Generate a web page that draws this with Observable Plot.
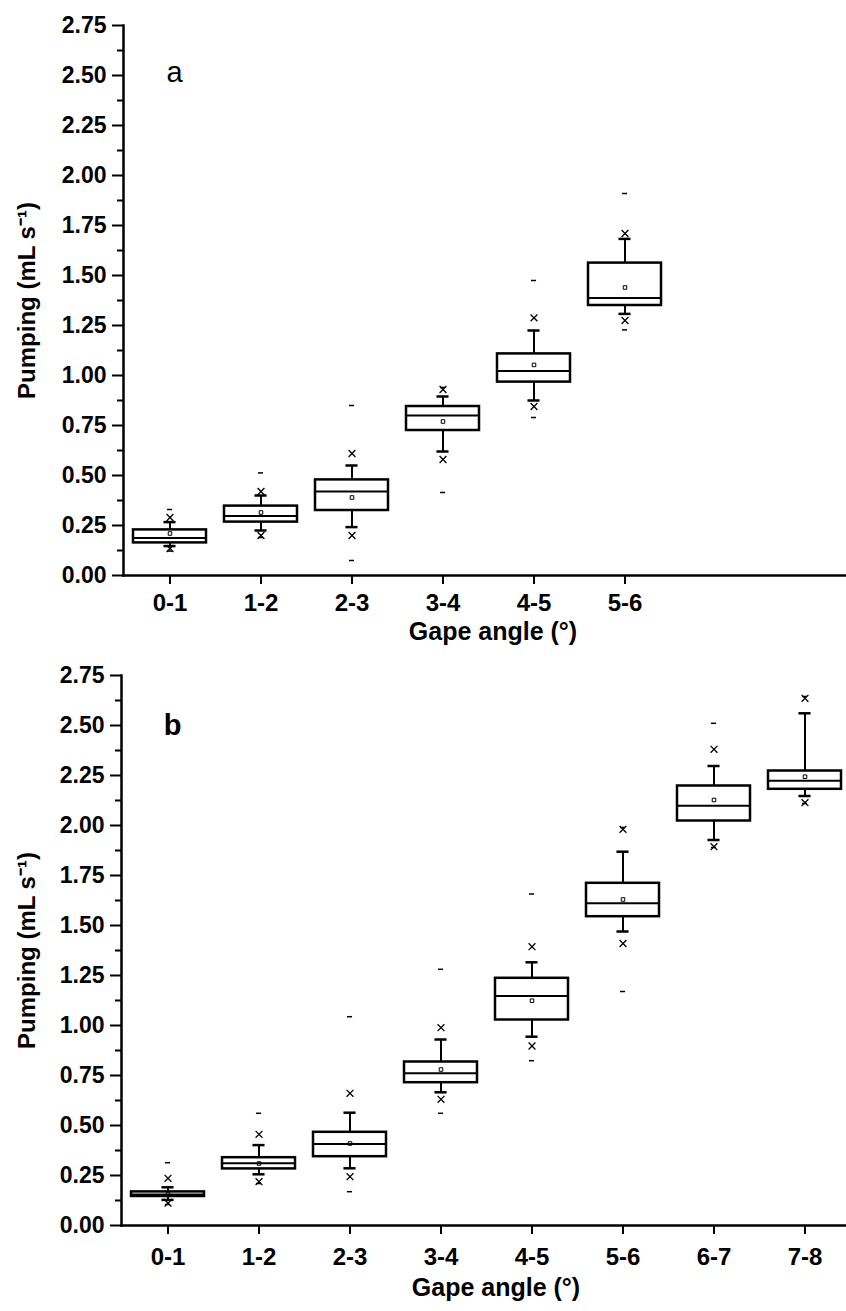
<!DOCTYPE html>
<html><head><meta charset="utf-8">
<script src="https://cdn.jsdelivr.net/npm/d3@7"></script>
<script src="https://cdn.jsdelivr.net/npm/@observablehq/plot@0.6"></script>
<style>
html,body{margin:0;padding:0;background:#fff;overflow:hidden;width:846px;height:1311px}
#a,#b{display:block;width:846px}
svg{display:block}
</style></head><body><div id="a"></div><div id="b"></div>
<script>
// ---- Panel a data (Pumping, mL s-1) ----
const catsA   = ["0-1","1-2","2-3","3-4","4-5","5-6"];
const aMax    = [0.33, 0.513, 0.85, 0.94, 1.475, 1.91];
const aP99    = [0.29, 0.42, 0.61, 0.93, 1.288, 1.71];
const aWhiHi  = [0.267, 0.40, 0.55, 0.895, 1.225, 1.683];
const aQ3     = [0.228, 0.347, 0.478, 0.845, 1.108, 1.562];
const aMed    = [0.188, 0.298, 0.42, 0.80, 1.022, 1.388];
const aQ1     = [0.163, 0.267, 0.325, 0.725, 0.967, 1.35];
const aWhiLo  = [0.147, 0.225, 0.242, 0.62, 0.875, 1.308];
const aP1     = [0.135, 0.20, 0.20, 0.58, 0.845, 1.275];
const aMin    = [0.122, 0.19, 0.075, 0.415, 0.79, 1.228];
const aMean   = [0.21, 0.315, 0.39, 0.77, 1.053, 1.44];

// ---- Panel b data ----
const catsB   = ["0-1","1-2","2-3","3-4","4-5","5-6","6-7","7-8"];
const bMax    = [0.314, 0.561, 1.044, 1.281, 1.6575, 1.99, 2.511, 2.645];
const bP99    = [0.236, 0.456, 0.661, 0.989, 1.394, 1.981, 2.381, 2.636];
const bWhiHi  = [0.191, 0.402, 0.564, 0.93, 1.316, 1.869, 2.2975, 2.561];
const bQ3     = [0.168, 0.339, 0.466, 0.8175, 1.236, 1.711, 2.1975, 2.2725];
const bMed    = [0.155, 0.311, 0.4075, 0.761, 1.1475, 1.611, 2.099, 2.224];
const bQ1     = [0.145, 0.283, 0.344, 0.714, 1.0275, 1.544, 2.0225, 2.181];
const bWhiLo  = [0.128, 0.256, 0.286, 0.666, 0.944, 1.47, 1.9275, 2.1475];
const bP1     = [0.112, 0.219, 0.244, 0.631, 0.8975, 1.41, 1.894, 2.114];
const bMin    = [0.105, 0.21, 0.169, 0.561, 0.824, 1.17, 1.89, 2.11];
const bMean   = [0.155, 0.31, 0.41, 0.78, 1.124, 1.63, 2.1275, 2.244];

const yMajorTicks = [0, 0.25, 0.5, 0.75, 1, 1.25, 1.5, 1.75, 2, 2.25, 2.5, 2.75];
const yMinorTicks = [0.125, 0.375, 0.625, 0.875, 1.125, 1.375, 1.625, 1.875, 2.125, 2.375, 2.625];
const yTitle = "Pumping (mL s\u207B\u00B9)";
const xTitle = "Gape angle (\u00B0)";

function table(cats, mx, p99, wh, q3, md, q1, wl, p1, mn, mean) {
  return cats.map((c, i) => ({cat: c, max: mx[i], p99: p99[i], whiHi: wh[i], q3: q3[i],
    med: md[i], q1: q1[i], whiLo: wl[i], p1: p1[i], min: mn[i], mean: mean[i]}));
}

const FONT = "'Liberation Sans', Arial, Helvetica, sans-serif";

function panel({cats, data, height, marginBottom, range, letter, letterWeight, letterDy, xPad, titleDx, titleDy, yTitleDx}) {
  const bw = (range[1] - range[0]) / (cats.length) * 0.8;
  return Plot.plot({
    width: 846,
    height,
    marginTop: 25,
    marginBottom,
    marginLeft: range[0],
    marginRight: 0,
    style: {fontFamily: FONT, fontWeight: "bold", color: "black", background: "white", overflow: "hidden"},
    x: {domain: cats, range, paddingInner: 0.2, paddingOuter: 0.1, axis: null},
    y: {domain: [0, 2.75], axis: null},
    marks: [
      Plot.axisY(yMinorTicks, {anchor: "left", tickSize: 6, tickFormat: () => "", strokeWidth: 2, label: null}),
      Plot.axisY(yMajorTicks, {anchor: "left", tickSize: 11, tickPadding: 6, tickFormat: d3.format(".2f"),
        fontSize: 23, fontWeight: "bold", strokeWidth: 2, label: null}),
      Plot.axisX({anchor: "bottom", tickSize: 9, tickPadding: xPad, fontSize: 24, fontWeight: "bold",
        strokeWidth: 2, label: null}),
      Plot.frame({anchor: "left", strokeWidth: 2.5}),
      Plot.frame({anchor: "bottom", strokeWidth: 2.5}),
      // whiskers
      Plot.ruleX(data, {x: "cat", y1: "q3", y2: "whiHi", strokeWidth: 2}),
      Plot.ruleX(data, {x: "cat", y1: "whiLo", y2: "q1", strokeWidth: 2}),
      Plot.tickY(data, {x: "cat", y: "whiHi", insetLeft: (bw - 12) / 2, insetRight: (bw - 12) / 2, strokeWidth: 2.5}),
      Plot.tickY(data, {x: "cat", y: "whiLo", insetLeft: (bw - 12) / 2, insetRight: (bw - 12) / 2, strokeWidth: 2.5}),
      // boxes
      Plot.barY(data, {x: "cat", y1: "q1", y2: "q3", fill: "white", stroke: "black", strokeWidth: 2.5}),
      Plot.tickY(data, {x: "cat", y: "med", strokeWidth: 2}),
      // mean
      Plot.dot(data, {x: "cat", y: "mean", symbol: "square", r: 2, stroke: "black", strokeWidth: 1, fill: "none"}),
      // 1% / 99%
      Plot.dot(data, {x: "cat", y: "p99", symbol: "times", r: 3.2, stroke: "black", strokeWidth: 1.3}),
      Plot.dot(data, {x: "cat", y: "p1", symbol: "times", r: 3.2, stroke: "black", strokeWidth: 1.3}),
      // min / max
      Plot.tickY(data, {x: "cat", y: "max", insetLeft: (bw - 5) / 2, insetRight: (bw - 5) / 2, strokeWidth: 1.5}),
      Plot.tickY(data, {x: "cat", y: "min", insetLeft: (bw - 5) / 2, insetRight: (bw - 5) / 2, strokeWidth: 1.5}),
      // panel letter
      Plot.text([letter], {frameAnchor: "top-left", dx: 51, dy: letterDy, fontSize: 29, fontWeight: letterWeight,
        textAnchor: "middle", lineAnchor: "middle"}),
      // axis titles
      Plot.text([xTitle], {frameAnchor: "bottom", dx: titleDx, dy: titleDy, fontSize: 25, fontWeight: "bold",
        textAnchor: "middle", lineAnchor: "middle"}),
      Plot.text([yTitle], {frameAnchor: "left", dx: yTitleDx, rotate: -90, fontSize: 24, fontWeight: "bold",
        textAnchor: "middle", lineAnchor: "middle"})
    ]
  });
}

const dataA = table(catsA, aMax, aP99, aWhiHi, aQ3, aMed, aQ1, aWhiLo, aP1, aMin, aMean);
const dataB = table(catsB, bMax, bP99, bWhiHi, bQ3, bMed, bQ1, bWhiLo, bP1, bMin, bMean);

document.getElementById("a").append(panel({cats: catsA, data: dataA, height: 650, marginBottom: 75,
  range: [123, 670], letter: "a", letterWeight: "normal", letterDy: 47, xPad: 9, titleDx: 8, titleDy: 56, yTitleDx: -96}));
document.getElementById("b").append(panel({cats: catsB, data: dataB, height: 661, marginBottom: 86,
  range: [121, 850], letter: "b", letterWeight: "bold", letterDy: 50, xPad: 13, titleDx: 12, titleDy: 62, yTitleDx: -94}));
</script>
</body></html>
